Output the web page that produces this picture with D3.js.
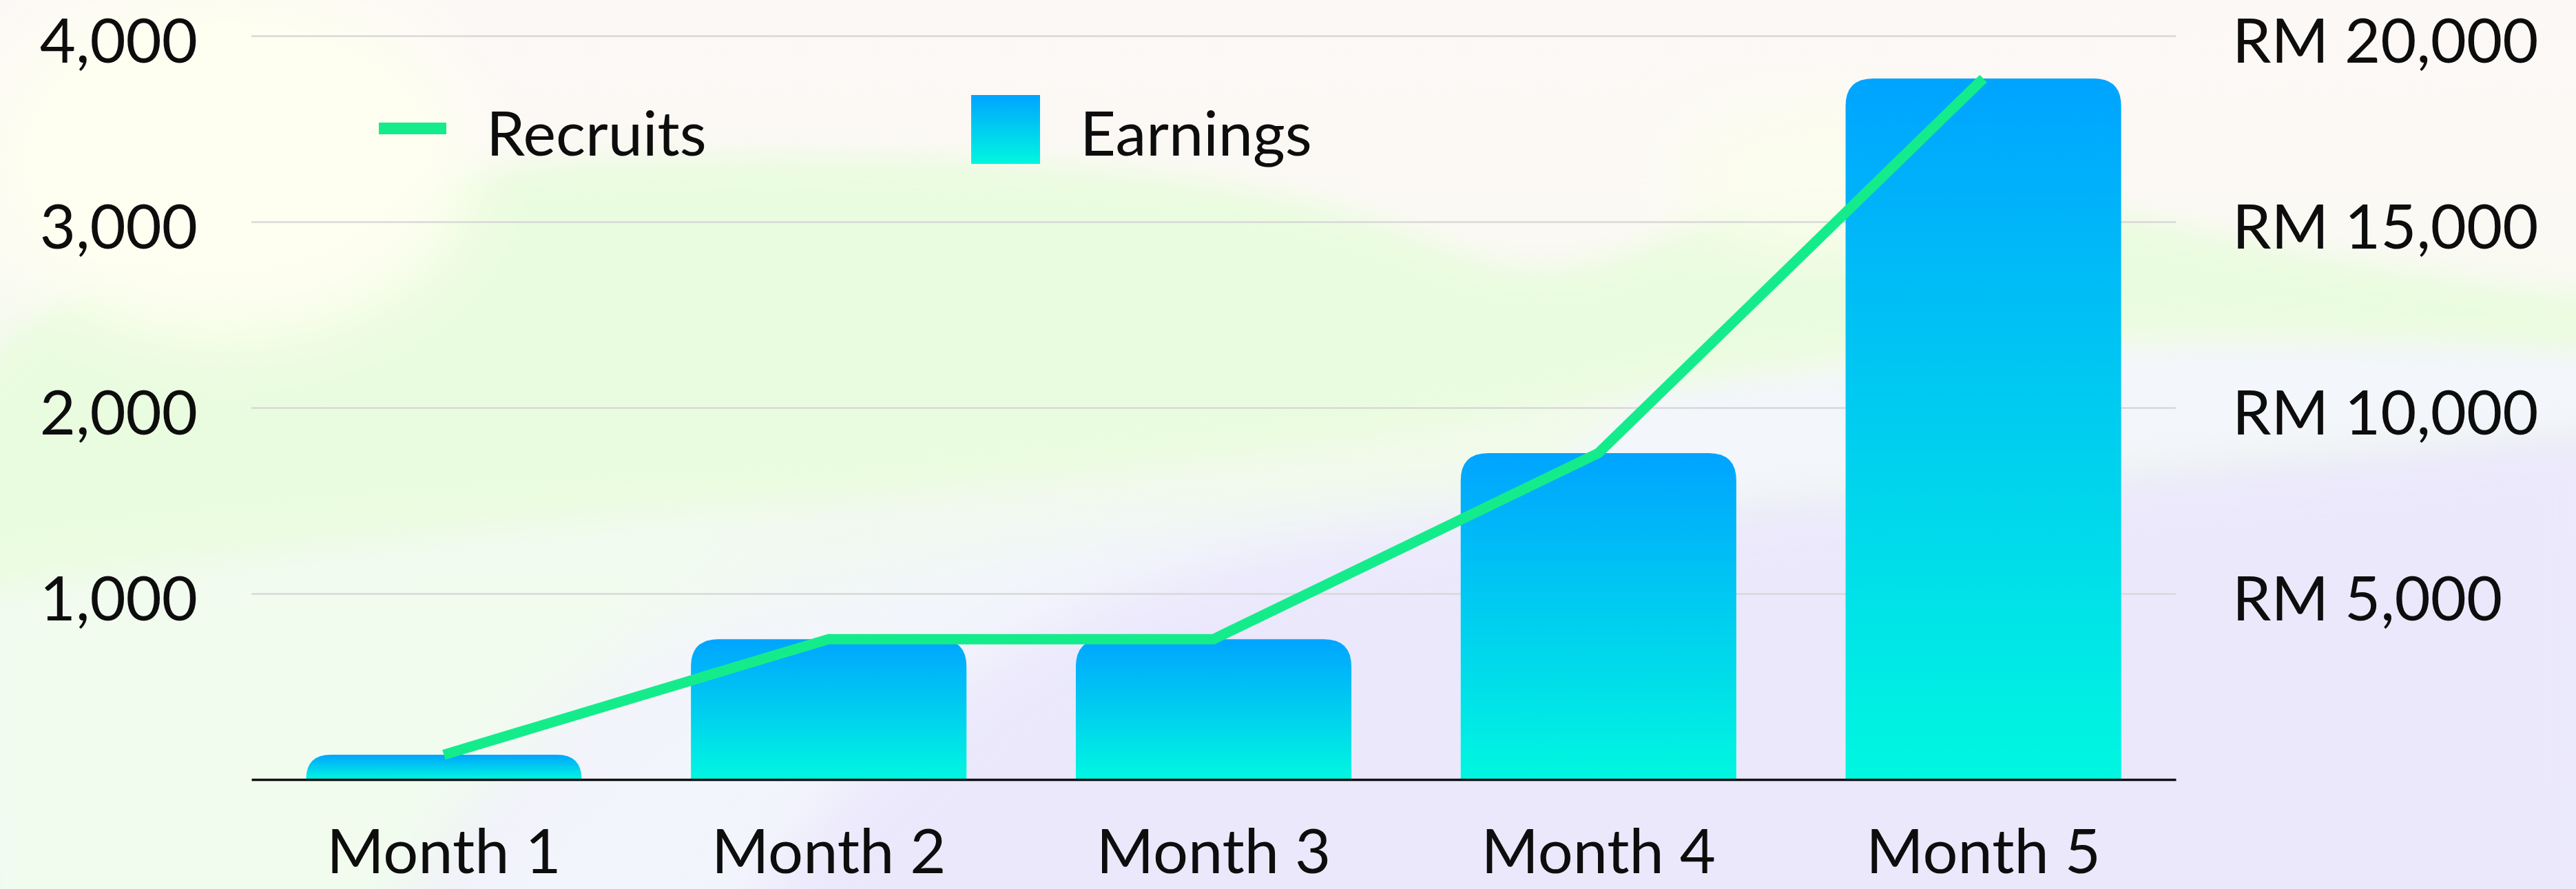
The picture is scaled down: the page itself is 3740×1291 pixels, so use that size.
<!DOCTYPE html>
<html>
<head>
<meta charset="utf-8">
<script src="https://cdn.jsdelivr.net/npm/d3@7"></script>
<style>
  html, body { margin: 0; padding: 0; background: #FBF8F7; }
  svg { display: block; }
  text { font-family: Lato, "Open Sans", sans-serif; fill: #0d0d0d; }
</style>
</head>
<body>
<svg id="chart" width="3740" height="1291"></svg>
<script>
// ---- data ----
const categories = ["Month 1", "Month 2", "Month 3", "Month 4", "Month 5"];
const recruits = [133, 755, 755, 1756, 3770];
const earnings = [665, 3775, 3775, 8780, 18850];
const leftTicks = [1000, 2000, 3000, 4000];
const rightTicks = [5000, 10000, 15000, 20000];
const seriesNames = ["Recruits", "Earnings"];

const W = 3740, H = 1291;
const svg = d3.select("#chart");
const defs = svg.append("defs");

// ---- background ----
const bgGrad = defs.append("linearGradient").attr("id", "bgGrad")
  .attr("x1", 0).attr("y1", 0).attr("x2", 0).attr("y2", 1);
[["0%", "#FCF8F6"], ["25%", "#FBF9F4"], ["50%", "#F1FBEA"], ["72%", "#F3F6FA"], ["100%", "#F0EEFB"]]
  .forEach(([o, c]) => bgGrad.append("stop").attr("offset", o).attr("stop-color", c));

const blur = defs.append("filter").attr("id", "blur")
  .attr("x", "-20%").attr("y", "-20%").attr("width", "140%").attr("height", "140%");
blur.append("feGaussianBlur").attr("stdDeviation", 45);
const blur2 = defs.append("filter").attr("id", "blur2")
  .attr("x", "-20%").attr("y", "-20%").attr("width", "140%").attr("height", "140%");
blur2.append("feGaussianBlur").attr("stdDeviation", 20);

const bg = svg.append("g");
bg.append("rect").attr("width", W).attr("height", H).attr("fill", "url(#bgGrad)");
// pale blue-white lower middle
bg.append("path").attr("filter", "url(#blur)").attr("fill", "#F3F5FC")
  .attr("d", "M600,1400 C 800,1100 1100,900 1600,780 L2200,780 L2200,1400 Z");
// lavender lower-right
bg.append("path").attr("filter", "url(#blur)").attr("fill", "#EBE8FC")
  .attr("d", "M1050,1400 C 1250,1050 1500,830 2050,760 C 2700,705 3300,660 3800,600 L3800,1400 Z");
// whitish band right
bg.append("path").attr("filter", "url(#blur2)").attr("fill", "#F3F6FB")
  .attr("d", "M2400,560 C 2900,520 3400,470 3800,500 L3800,610 C 3300,650 2700,700 2200,740 Z");
// green mass
bg.append("path").attr("filter", "url(#blur2)").attr("fill", "#EAFCDF")
  .attr("d", "M-50,560 C 150,330 500,235 1000,228 C 1500,222 1850,250 2100,360 C 2300,450 2450,330 2650,210 C 2900,260 3300,380 3800,440 L3800,510 C 3300,470 2800,470 2300,580 C 1700,700 800,740 -50,880 Z");
// pale mint lower-left
bg.append("path").attr("filter", "url(#blur)").attr("fill", "#F1FCEE")
  .attr("d", "M-50,860 C 400,790 800,770 1200,750 C 900,900 700,1100 550,1400 L-50,1400 Z");
// cream blobs
bg.append("ellipse").attr("filter", "url(#blur)").attr("fill", "#FEFEF1")
  .attr("cx", 330).attr("cy", 230).attr("rx", 360).attr("ry", 260);
bg.append("ellipse").attr("filter", "url(#blur)").attr("fill", "#FBFDEE")
  .attr("cx", 2650).attr("cy", 250).attr("rx", 220).attr("ry", 110);

// ---- scales ----
const x = d3.scaleBand().domain(categories).range([365, 3159])
  .paddingInner(0.284).paddingOuter(0.142);
const yL = d3.scaleLinear().domain([0, 4000]).range([1132, 52]);
const yR = d3.scaleLinear().domain([0, 20000]).range([1132, 52]);

// ---- gridlines ----
const grid = svg.append("g").attr("class", "grid")
  .attr("transform", "translate(365,0)")
  .call(d3.axisLeft(yL).tickValues(leftTicks).tickSize(-(3159 - 365)).tickFormat(""));
grid.select(".domain").remove();
grid.selectAll(".tick line").attr("stroke", "#D8D8D8").attr("stroke-width", 2.5);

// ---- bar gradient ----
const barGrad = defs.append("linearGradient").attr("id", "barGrad")
  .attr("x1", 0).attr("y1", 0).attr("x2", 0).attr("y2", 1);
barGrad.append("stop").attr("offset", "0%").attr("stop-color", "#00A4FF");
barGrad.append("stop").attr("offset", "100%").attr("stop-color", "#00F7E0");

function topRounded(x0, y0, w, h, r) {
  r = Math.min(r, h, w / 2);
  return `M${x0},${y0 + h} L${x0},${y0 + r} Q${x0},${y0} ${x0 + r},${y0} ` +
         `L${x0 + w - r},${y0} Q${x0 + w},${y0} ${x0 + w},${y0 + r} L${x0 + w},${y0 + h} Z`;
}

svg.append("g").selectAll("path").data(categories).join("path")
  .attr("fill", "url(#barGrad)")
  .attr("d", (c, i) => {
    const y0 = yR(earnings[i]);
    return topRounded(x(c), y0, x.bandwidth(), yR(0) - y0, 40);
  });

// ---- baseline axis ----
const xAxis = svg.append("g").attr("transform", `translate(0,${yL(0)})`)
  .call(d3.axisBottom(x).tickSize(0).tickPadding(0));
xAxis.select(".domain").attr("stroke", "#111").attr("stroke-width", 3.5);
xAxis.selectAll(".tick text")
  .attr("y", 136).attr("dy", 0)
  .style("font-family", "Lato, sans-serif").style("font-size", "90px").attr("fill", "#0d0d0d");

// ---- line ----
const line = d3.line()
  .x((d, i) => x(categories[i]) + x.bandwidth() / 2)
  .y(d => yL(d));
svg.append("path").datum(recruits)
  .attr("fill", "none").attr("stroke", "#14EC8B").attr("stroke-width", 15)
  .attr("stroke-linejoin", "miter").attr("stroke-linecap", "butt")
  .attr("d", line);

// ---- left axis labels ----
const la = svg.append("g").attr("transform", "translate(287,0)")
  .call(d3.axisLeft(yL).tickValues(leftTicks).tickSize(0).tickPadding(0).tickFormat(d3.format(",")));
la.select(".domain").remove();
la.selectAll(".tick text").attr("x", 0).attr("dy", 38).attr("text-anchor", "end")
  .style("font-family", "Lato, sans-serif").style("font-size", "90px").attr("fill", "#0d0d0d");

// ---- right axis labels ----
const ra = svg.append("g").attr("transform", "translate(3241,0)")
  .call(d3.axisRight(yR).tickValues(rightTicks).tickSize(0).tickPadding(0)
    .tickFormat(d => "RM " + d3.format(",")(d)));
ra.select(".domain").remove();
ra.selectAll(".tick text").attr("x", 0).attr("dy", 38).attr("text-anchor", "start")
  .style("font-family", "Lato, sans-serif").style("font-size", "90px").attr("fill", "#0d0d0d");

// ---- legend ----
const lg = svg.append("g");
lg.append("rect").attr("x", 550).attr("y", 178).attr("width", 98).attr("height", 17).attr("fill", "#14EC8B");
lg.append("text").attr("x", 706).attr("y", 226).style("font-size", "90px").text(seriesNames[0]);
lg.append("rect").attr("x", 1410).attr("y", 138).attr("width", 100).attr("height", 100).attr("fill", "url(#barGrad)");
lg.append("text").attr("x", 1568).attr("y", 226).style("font-size", "90px").text(seriesNames[1]);
</script>
</body>
</html>
